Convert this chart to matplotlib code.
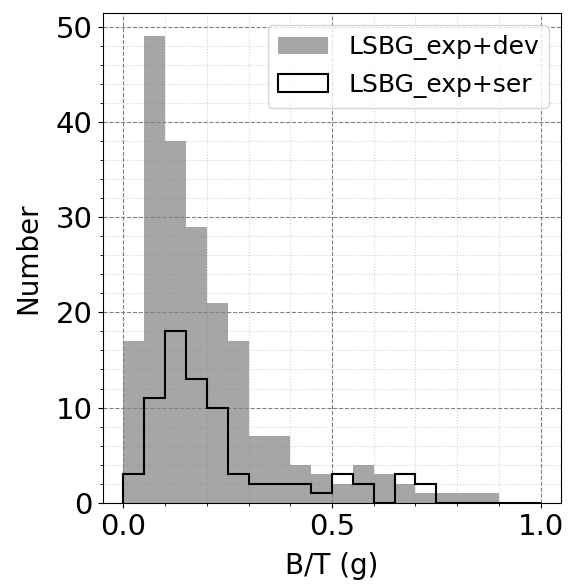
import numpy as np
import matplotlib
matplotlib.use("Agg")
import matplotlib.pyplot as plt
from matplotlib.ticker import MultipleLocator

# bin edges 0..1 step 0.05, counts
bin_edges = np.round(np.arange(0, 1.0001, 0.05), 2)
counts_dev = [17, 49, 38, 29, 21, 17, 7, 7, 4, 3, 2, 4, 3, 2, 1, 1, 1, 1, 0, 0]
counts_ser = [3, 11, 18, 13, 10, 3, 2, 2, 2, 1, 3, 2, 0, 3, 2, 0, 0, 0, 0, 0]
label_dev = "LSBG_exp+dev"
label_ser = "LSBG_exp+ser"

centers = (bin_edges[:-1] + bin_edges[1:]) / 2

fig, ax = plt.subplots(figsize=(5.7, 5.86), dpi=100)
ax.hist(centers, bins=bin_edges, weights=counts_dev, color='gray', alpha=0.7,
        label=label_dev)
ax.hist(centers, bins=bin_edges, weights=counts_ser, histtype='step', color='k',
        linewidth=1.5, label=label_ser)

ax.xaxis.set_major_locator(MultipleLocator(0.5))
ax.xaxis.set_minor_locator(MultipleLocator(0.1))
ax.yaxis.set_major_locator(MultipleLocator(10))
ax.yaxis.set_minor_locator(MultipleLocator(2))
ax.grid(which='major', linestyle='--', color='gray', linewidth=0.8)
ax.grid(which='minor', linestyle=':', color='lightgray', linewidth=0.8)
ax.set_axisbelow(True)

ax.tick_params(axis='both', which='major', labelsize=21)
ax.set_xlabel("B/T (g)", fontsize=20, labelpad=8)
ax.set_ylabel("Number", fontsize=20, labelpad=10)
ax.legend(loc='upper right', fontsize=18)

fig.subplots_adjust(left=0.18, right=0.985, bottom=0.142, top=0.978)
fig.savefig("out.png")
